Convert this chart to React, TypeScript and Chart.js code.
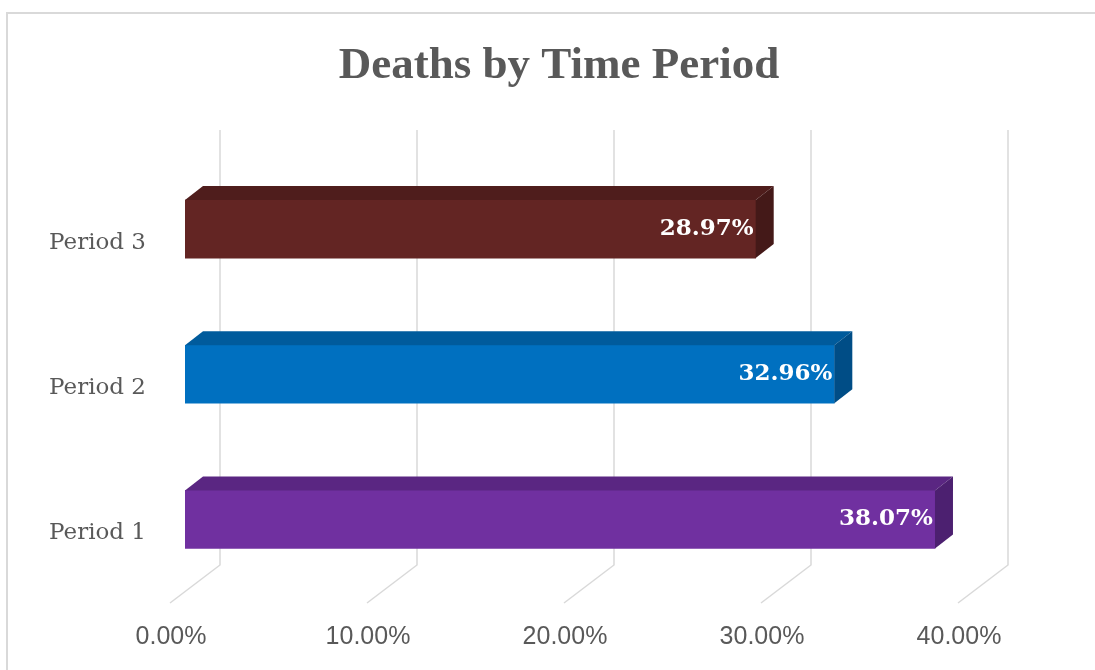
import React, { useEffect, useRef } from "react";
import { Chart, registerables } from "chart.js";

Chart.register(...registerables);

const categories = ["Period 1", "Period 2", "Period 3"];
const deathShare = [38.07, 32.96, 28.97];
const frontColors = ["#7030a0", "#0070c0", "#632523"];
const topColors = ["#5a2682", "#005b9c", "#4f1d1c"];
const sideColors = ["#4c2070", "#004d86", "#441918"];
const xTicks = [0, 10, 20, 30, 40];
const chartTitle = "Deaths by Time Period";

const DX = 18;
const DY = -14;

const decorPlugin = {
  id: "decor3d",
  beforeDraw(chart: any) {
    const { ctx } = chart;
    ctx.save();
    ctx.fillStyle = "#ffffff";
    ctx.fillRect(0, 0, chart.width, chart.height);
    ctx.strokeStyle = "#d9d9d9";
    ctx.lineWidth = 2;
    ctx.strokeRect(7, 13, chart.width + 20, chart.height + 20);
    ctx.fillStyle = "#595959";
    ctx.font = "bold 45px 'Liberation Serif'";
    ctx.textAlign = "center";
    ctx.textBaseline = "alphabetic";
    ctx.fillText(chartTitle, 559, 78);
    ctx.restore();
  },
  beforeDatasetsDraw(chart: any) {
    const { ctx } = chart;
    const xs = chart.scales.x;
    ctx.save();
    ctx.strokeStyle = "#d9d9d9";
    ctx.lineWidth = 1.5;
    xTicks.forEach((v) => {
      const p = xs.getPixelForValue(v);
      ctx.beginPath();
      ctx.moveTo(p + 35, 130);
      ctx.lineTo(p + 35, 565);
      ctx.lineTo(p - 15, 603);
      ctx.stroke();
    });
    ctx.restore();
  },
  afterDatasetsDraw(chart: any) {
    const { ctx } = chart;
    const meta = chart.getDatasetMeta(0);
    ctx.save();
    meta.data.forEach((bar: any, i: number) => {
      const { x, y, base, height } = bar.getProps(["x", "y", "base", "height"], true);
      const top = y - height / 2;
      const bottom = y + height / 2;
      ctx.fillStyle = topColors[i];
      ctx.beginPath();
      ctx.moveTo(base, top);
      ctx.lineTo(x, top);
      ctx.lineTo(x + DX, top + DY);
      ctx.lineTo(base + DX, top + DY);
      ctx.closePath();
      ctx.fill();
      ctx.fillStyle = sideColors[i];
      ctx.beginPath();
      ctx.moveTo(x, top);
      ctx.lineTo(x + DX, top + DY);
      ctx.lineTo(x + DX, bottom + DY);
      ctx.lineTo(x, bottom);
      ctx.closePath();
      ctx.fill();
      ctx.fillStyle = "#ffffff";
      ctx.font = "bold 23px 'DejaVu Serif'";
      ctx.textAlign = "right";
      ctx.textBaseline = "middle";
      ctx.fillText(deathShare[i].toFixed(2) + "%", x - 2, y);
    });
    ctx.restore();
  },
};

export default function App() {
  const ref = useRef<HTMLCanvasElement>(null);
  useEffect(() => {
    if (!ref.current) return;
    const chart = new Chart(ref.current, {
      type: "bar",
      data: {
        labels: categories,
        datasets: [
          {
            data: deathShare,
            backgroundColor: frontColors,
            borderWidth: 0,
            barThickness: 58,
          },
        ],
      },
      options: {
        indexAxis: "y",
        responsive: false,
        animation: false,
        layout: { padding: { left: 0, right: 122, top: 156.5, bottom: -12 } },
        plugins: {
          legend: { display: false },
          tooltip: { enabled: false },
          title: { display: false },
        },
        scales: {
          x: {
            min: 0,
            max: 40,
            afterBuildTicks: (scale: any) => {
              scale.ticks = xTicks.map((v) => ({ value: v }));
            },
            grid: { display: false, drawTicks: false },
            border: { display: false },
            ticks: {
              padding: 30,
              labelOffset: -14,
              color: "#595959",
              font: { family: "'Liberation Sans'", size: 25 },
              callback: (v: any) => Number(v).toFixed(2) + "%",
            },
          },
          y: {
            reverse: true,
            afterFit: (scale: any) => {
              scale.width = 185;
              scale.paddingTop = 0;
              scale.paddingBottom = 0;
            },
            grid: { display: false, drawTicks: false },
            border: { display: false },
            ticks: {
              padding: 39,
              labelOffset: 14,
              color: "#595959",
              font: { family: "'DejaVu Serif'", size: 23 },
            },
          },
        },
      },
      plugins: [decorPlugin],
    });
    return () => chart.destroy();
  }, []);
  return (
    <div style={{ position: "fixed", left: 0, top: 0, width: 1095, height: 670 }}>
      <canvas ref={ref} width={1095} height={670} style={{ display: "block" }} />
    </div>
  );
}
